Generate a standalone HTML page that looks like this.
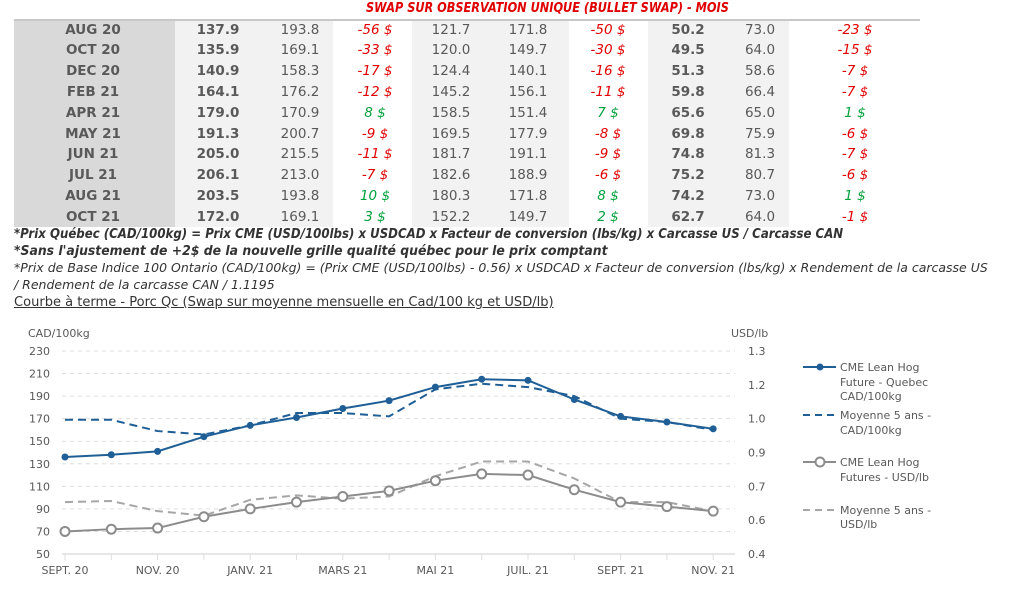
<!DOCTYPE html>
<html><head><meta charset="utf-8"><style>
body{margin:0;width:1024px;height:594px;background:#fff;position:relative;overflow:hidden;font-family:"DejaVu Sans","Liberation Sans",sans-serif;}
.a{position:absolute;white-space:nowrap}
.c{position:absolute;transform:translateX(-50%);white-space:nowrap;font-size:13.5px;color:#595959}
.fn{position:absolute;left:14px;font-size:13.3px;font-style:italic;color:#333;white-space:nowrap;transform-origin:0 0}
</style></head><body>
<div class="a" style="left:366px;top:1px;font-size:13px;font-weight:bold;font-style:italic;color:#e00000;transform:scaleX(0.87);transform-origin:0 0">SWAP SUR OBSERVATION UNIQUE (BULLET SWAP) - MOIS</div>
<div class="a" style="left:14px;width:906px;top:19px;height:2px;background:#c8c8c8"></div>
<div class="a" style="left:14px;width:161px;top:21px;height:206px;background:#d9d9d9"></div>
<div class="a" style="left:175px;width:158px;top:21px;height:206px;background:#f2f2f2"></div>
<div class="a" style="left:412px;width:157px;top:21px;height:206px;background:#f2f2f2"></div>
<div class="a" style="left:648px;width:141px;top:21px;height:206px;background:#f2f2f2"></div>
<div id="tbl"></div>
<div class="fn" style="top:227px;font-weight:bold;transform:scaleX(0.885)">*Prix Québec (CAD/100kg) = Prix CME (USD/100lbs) x USDCAD x Facteur de conversion (lbs/kg) x Carcasse US / Carcasse CAN</div>
<div class="fn" style="top:244px;font-weight:bold;transform:scaleX(0.934)">*Sans l'ajustement de +2$ de la nouvelle grille qualité québec pour le prix comptant</div>
<div class="fn" style="top:261px;font-size:12.8px;transform:scaleX(0.976)">*Prix de Base Indice 100 Ontario (CAD/100kg) = (Prix CME (USD/100lbs) - 0.56) x USDCAD x Facteur de conversion (lbs/kg) x Rendement de la carcasse US</div>
<div class="fn" style="top:278px;font-size:12.8px;transform:scaleX(0.976)">/ Rendement de la carcasse CAN / 1.1195</div>
<div class="fn" style="top:295px;font-style:normal;text-decoration:underline;font-size:13.3px;transform:scaleX(0.98)">Courbe à terme - Porc Qc (Swap sur moyenne mensuelle en Cad/100 kg et USD/lb)</div>
<svg id="ch" class="a" style="left:0;top:0" width="1024" height="594" font-family="DejaVu Sans, Liberation Sans, sans-serif" font-size="11" fill="#595959"></svg>
<script>
var rows=[["AUG 20","137.9","193.8","-56 $","121.7","171.8","-50 $","50.2","73.0","-23 $"],
["OCT 20","135.9","169.1","-33 $","120.0","149.7","-30 $","49.5","64.0","-15 $"],
["DEC 20","140.9","158.3","-17 $","124.4","140.1","-16 $","51.3","58.6","-7 $"],
["FEB 21","164.1","176.2","-12 $","145.2","156.1","-11 $","59.8","66.4","-7 $"],
["APR 21","179.0","170.9","8 $","158.5","151.4","7 $","65.6","65.0","1 $"],
["MAY 21","191.3","200.7","-9 $","169.5","177.9","-8 $","69.8","75.9","-6 $"],
["JUN 21","205.0","215.5","-11 $","181.7","191.1","-9 $","74.8","81.3","-7 $"],
["JUL 21","206.1","213.0","-7 $","182.6","188.9","-6 $","75.2","80.7","-6 $"],
["AUG 21","203.5","193.8","10 $","180.3","171.8","8 $","74.2","73.0","1 $"],
["OCT 21","172.0","169.1","3 $","152.2","149.7","2 $","62.7","64.0","-1 $"]];
var xs=[93,218,300,375,451,528,608,688,760,855],h="";
rows.forEach(function(r,i){var y=21.5+i*20.8;r.forEach(function(t,j){var st="top:"+y+"px;left:"+xs[j]+"px;";
if(j==0||j==1||j==7)st+="font-weight:bold;";
if(j==3||j==6||j==9)st+="font-style:italic;color:"+(t[0]=="-"?"#e00000":"#00a03c")+";";
h+='<div class="c" style="'+st+'">'+t+'</div>';});});
document.getElementById("tbl").innerHTML=h;
function X(i){return 65+i*46.3}function Y(v){return 554-(v-50)*1.1278}
var s="";
[230,210,190,170,150,130,110,90,70].forEach(function(v){s+='<line x1="62" x2="735" y1="'+Y(v)+'" y2="'+Y(v)+'" stroke="#ddd" stroke-dasharray="4,4"/>';});
s+='<line x1="62" x2="735" y1="554" y2="554" stroke="#ddd" stroke-width="1.5"/>';
var rl=["1.3","1.2","1.0","0.9","0.7","0.6","0.4"];
[230,210,190,170,150,130,110,90,70,50].forEach(function(v,k){s+='<text x="50" y="'+(Y(v)+4)+'" text-anchor="end">'+v+'</text>';});
[230,200,170,140,110,80,50].forEach(function(v,k){s+='<text x="748" y="'+(Y(v)+4)+'">'+rl[k]+'</text>';});
s+='<text x="28" y="337">CAD/100kg</text><text x="731" y="337">USD/lb</text>';
for(var i=0;i<15;i++){s+='<line x1="'+X(i)+'" x2="'+X(i)+'" y1="554" y2="560" stroke="#ddd"/>';}
["SEPT. 20","NOV. 20","JANV. 21","MARS 21","MAI 21","JUIL. 21","SEPT. 21","NOV. 21"].forEach(function(t,k){s+='<text x="'+X(2*k)+'" y="574" text-anchor="middle">'+t+'</text>';});
function P(a){return a.map(function(v,i){return X(i)+","+Y(v)}).join(" ")}
var b=[136,138,141,154,164,171,179,186,198,205,204,187,172,167,161],
bd=[169,169,159,156,164,175,175,172,196,201,198,190,170,167,160],
g=[70,72,73,83,90,96,101,106,115,121,120,107,96,92,88],
gd=[96,97,88,84,98,102,99,101,119,132,132,117,96,96,88];
s+='<polyline points="'+P(gd)+'" fill="none" stroke="#a6a6a6" stroke-width="2" stroke-dasharray="8,5"/>';
s+='<polyline points="'+P(g)+'" fill="none" stroke="#8c8c8c" stroke-width="2"/>';
g.forEach(function(v,i){s+='<circle cx="'+X(i)+'" cy="'+Y(v)+'" r="4.5" fill="#fff" stroke="#8c8c8c" stroke-width="2"/>';});
s+='<polyline points="'+P(bd)+'" fill="none" stroke="#1f5f96" stroke-width="2" stroke-dasharray="8,5"/>';
s+='<polyline points="'+P(b)+'" fill="none" stroke="#1f5f96" stroke-width="2"/>';
b.forEach(function(v,i){s+='<circle cx="'+X(i)+'" cy="'+Y(v)+'" r="3.5" fill="#1f5f96"/>';});
s+='<line x1="803" x2="836" y1="367" y2="367" stroke="#1f5f96" stroke-width="2"/><circle cx="820" cy="367" r="3.5" fill="#1f5f96"/>';
s+='<line x1="803" x2="836" y1="415" y2="415" stroke="#1f5f96" stroke-width="2" stroke-dasharray="7,5"/>';
s+='<line x1="803" x2="836" y1="462" y2="462" stroke="#8c8c8c" stroke-width="2"/><circle cx="820" cy="462" r="4.5" fill="#fff" stroke="#8c8c8c" stroke-width="2"/>';
s+='<line x1="803" x2="836" y1="510" y2="510" stroke="#a6a6a6" stroke-width="2" stroke-dasharray="7,5"/>';
[["CME Lean Hog",371],["Future - Quebec",386],["CAD/100kg",400],["Moyenne 5 ans -",419],["CAD/100kg",434],["CME Lean Hog",466],["Futures - USD/lb",481],["Moyenne 5 ans -",514],["USD/lb",528]].forEach(function(t){s+='<text x="840" y="'+t[1]+'">'+t[0]+'</text>';});
document.getElementById("ch").innerHTML=s;
</script>
</body></html>
